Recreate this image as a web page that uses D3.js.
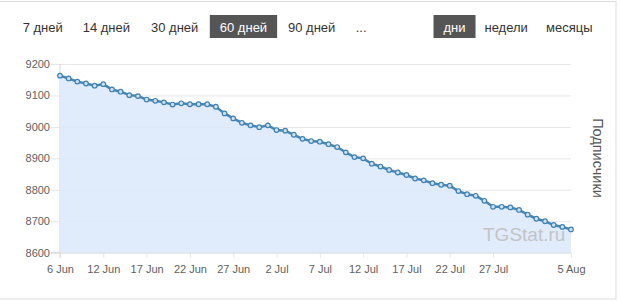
<!DOCTYPE html>
<html><head><meta charset="utf-8">
<script src="https://cdn.jsdelivr.net/npm/d3@7"></script>
<style>
html,body{margin:0;padding:0;background:#fff;}
svg{display:block;font-family:"Liberation Sans",Arial,sans-serif;}
</style></head>
<body>
<svg id="c" width="620" height="302"></svg>
<script>
// ---- data ----
const startDate = "2023-06-07";
const subscribers = [
  9163, 9154, 9144, 9138, 9131, 9136, 9119, 9112, 9101, 9098,
  9087, 9083, 9078, 9071, 9075, 9072, 9072, 9072, 9064, 9043,
  9027, 9013, 9005, 8999, 9005, 8990, 8988, 8975, 8962, 8955,
  8953, 8945, 8936, 8919, 8904, 8900, 8883, 8874, 8863, 8855,
  8847, 8836, 8830, 8821, 8816, 8813, 8796, 8786, 8781, 8765,
  8746, 8746, 8744, 8736, 8721, 8708, 8700, 8688, 8682, 8674
];
const tickDates = ["2023-06-07","2023-06-12","2023-06-17","2023-06-22","2023-06-27","2023-07-02","2023-07-07","2023-07-12","2023-07-17","2023-07-22","2023-07-27","2023-08-05"];
const tickLabels = ["6 Jun","12 Jun","17 Jun","22 Jun","27 Jun","2 Jul","7 Jul","12 Jul","17 Jul","22 Jul","27 Jul","5 Aug"];
const yTicks = [8600, 8700, 8800, 8900, 9000, 9100, 9200];
const periodButtons = ["7 дней","14 дней","30 дней","60 дней","90 дней","..."];
const periodActive = "60 дней";
const groupButtons = ["дни","недели","месяцы"];
const groupActive = "дни";
const axisTitle = "Подписчики";
const watermark = "TGStat.ru";

// ---- layout ----
const svg = d3.select("#c");
const parse = d3.utcParse("%Y-%m-%d");
const t0 = parse(startDate);
const data = subscribers.map((v,i)=>({date:d3.utcDay.offset(t0,i), value:v}));

const L=60, R=571, T=64, B=252.7;
const x = d3.scaleUtc().domain([data[0].date, data[data.length-1].date]).range([L,R]);
const y = d3.scaleLinear().domain([8600,9200]).range([B,T]);

// outer frame
svg.append("rect").attr("x",-1).attr("y",1.5).attr("width",617).attr("height",297.5)
  .attr("fill","none").attr("stroke","#dcdcdc");

// horizontal grid + left ticks
const yAxis = d3.axisLeft(y).tickValues(yTicks).tickSize(-(R-L)).tickPadding(0).tickFormat(d3.format("d"));
const gy = svg.append("g").attr("transform",`translate(${L},0)`).call(yAxis);
gy.select(".domain").remove();
gy.selectAll(".tick line").attr("stroke","#e6e6e6").attr("x1",-9);
gy.selectAll(".tick text").attr("x",-10).attr("fill","#606060").attr("font-size",11)
  .attr("font-family","Liberation Sans, Arial, sans-serif");

// vertical grid
const tickDateObjs = tickDates.map(parse);
const xAxis = d3.axisBottom(x).tickValues(tickDateObjs).tickSize(-(B-T)).tickPadding(0)
  .tickFormat((d,i)=>tickLabels[i]);
const gx = svg.append("g").attr("transform",`translate(0,${B})`).call(xAxis);
gx.select(".domain").remove();
gx.selectAll(".tick line").attr("stroke","#e6e6e6").attr("y2",5);
gx.selectAll(".tick text").attr("y",16).attr("dy","0.4em").attr("fill","#606060").attr("font-size",11)
  .attr("font-family","Liberation Sans, Arial, sans-serif");

// axis lines
svg.append("line").attr("x1",L).attr("x2",L).attr("y1",T).attr("y2",B+5).attr("stroke","#d4d4d4");
svg.append("line").attr("x1",L-9).attr("x2",R).attr("y1",B).attr("y2",B).attr("stroke","#d4d4d4");

// area
const area = d3.area().x(d=>x(d.date)).y0(y(8600)).y1(d=>y(d.value));
svg.append("path").datum(data).attr("d",area).attr("fill","#dde9fb").attr("fill-opacity",0.9);

// watermark
svg.append("text").attr("x",483).attr("y",241).text(watermark)
  .attr("font-size",19).attr("fill","#c4c4c4");

// line
const line = d3.line().x(d=>x(d.date)).y(d=>y(d.value));
svg.append("path").datum(data).attr("d",line).attr("fill","none")
  .attr("stroke","#4387ba").attr("stroke-width",2.5);
svg.append("g").selectAll("circle").data(data).join("circle")
  .attr("cx",d=>x(d.date)).attr("cy",d=>y(d.value)).attr("r",2.3)
  .attr("fill","#cfe1f2").attr("stroke","#3f82b5").attr("stroke-width",1.2);

// right axis title
svg.append("text").attr("transform","translate(593,158) rotate(90)")
  .attr("text-anchor","middle").attr("font-size",14.5).attr("fill","#555").text(axisTitle);

// buttons
const periodX = [22.7, 82.7, 151, 219.8, 288, 355.7];
const groupX = [443.5, 484.5, 546];
function drawButtons(labels, xs, active){
  labels.forEach((t,i)=>{
    const g = svg.append("g");
    const txt = g.append("text").attr("x",xs[i]).attr("y",31.5).attr("font-size",13)
      .attr("fill", t===active ? "#fff" : "#333").text(t);
    if(t===active){
      const bb = txt.node().getBBox();
      g.insert("rect","text").attr("x",bb.x-10).attr("y",15).attr("width",bb.width+20).attr("height",23)
        .attr("fill","#555");
    }
  });
}
drawButtons(periodButtons, periodX, periodActive);
drawButtons(groupButtons, groupX, groupActive);
</script>
</body></html>
